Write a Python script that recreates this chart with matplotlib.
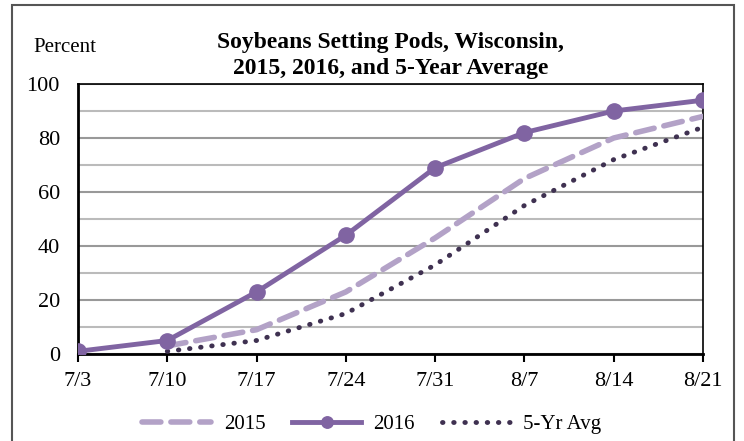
import matplotlib.pyplot as plt
from matplotlib.patches import Rectangle
from matplotlib.ticker import MultipleLocator

# weekly dates and percent of soybeans setting pods
weeks = ['7/3', '7/10', '7/17', '7/24', '7/31', '8/7', '8/14', '8/21']
y2015 = [None, 3, 9, 23, 43, 65, 80, 88]
y2016 = [1, 5, 23, 44, 69, 82, 90, 94]
avg5 = [None, 1, 5, 15, 33, 55, 72, 84]

plt.rcParams['font.family'] = ['Liberation Serif', 'DejaVu Serif']

fig = plt.figure(figsize=(7.44, 4.41), dpi=100)
ax = fig.add_axes([78/744, 1-354/441, (703-78)/744, (354-84)/441])

# outer chart border
fig.patches.append(Rectangle((12/744, -0.05), (734-12)/744, 1-5/441+0.05,
                             transform=fig.transFigure, fill=False,
                             edgecolor='#555555', linewidth=1.5))

x = list(range(len(weeks)))
x15 = [i for i, v in zip(x, y2015) if v is not None]
v15 = [v for v in y2015 if v is not None]
xav = [i for i, v in zip(x, avg5) if v is not None]
vav = [v for v in avg5 if v is not None]

ax.plot(x15, v15, color='#B3A2C7', linewidth=4, dashes=(3.4, 1.8),
        dash_capstyle='round', label='2015', zorder=3)
ax.plot(x, y2016, color='#8064A2', linewidth=3.5, marker='o', markersize=11,
        label='2016', zorder=4)
ax.plot(xav, vav, color='#3F3151', linewidth=3.5, linestyle=(0, (0.1, 2.2)),
        dash_capstyle='round', label='5-Yr Avg', zorder=3)

ax.set_xlim(0, len(weeks)-1)
ax.set_ylim(0, 100)
ax.set_xticks(x)
ax.set_xticklabels(weeks)
ax.yaxis.set_major_locator(MultipleLocator(20))
ax.yaxis.set_minor_locator(MultipleLocator(10))
ax.grid(axis='y', which='major', color='#999999', linewidth=1.5, zorder=0)
ax.grid(axis='y', which='minor', color='#BBBBBB', linewidth=1.5, zorder=0)
ax.tick_params(axis='y', which='both', length=0, labelsize=16, pad=13)
ax.tick_params(axis='x', length=6, width=1.5, direction='out', labelsize=16, pad=7)
for s in ['left', 'bottom']:
    ax.spines[s].set_linewidth(2)
for s in ['top', 'right']:
    ax.spines[s].set_linewidth(1.2)
ax.set_axisbelow(True)

ax.set_title('Soybeans Setting Pods, Wisconsin,\n2015, 2016, and 5-Year Average',
             fontsize=17, fontweight='bold', pad=7, linespacing=1.3)
fig.text(33/744, 1-47/441, 'Percent', fontsize=15, va='center', ha='left')

fig.legend(loc='center', bbox_to_anchor=(0.5, 1-424/441), ncol=3, frameon=False,
           fontsize=15, handlelength=3.3, columnspacing=1.3, handletextpad=0.6,
           markerscale=0.75)

fig.savefig('out.png', dpi=100)
